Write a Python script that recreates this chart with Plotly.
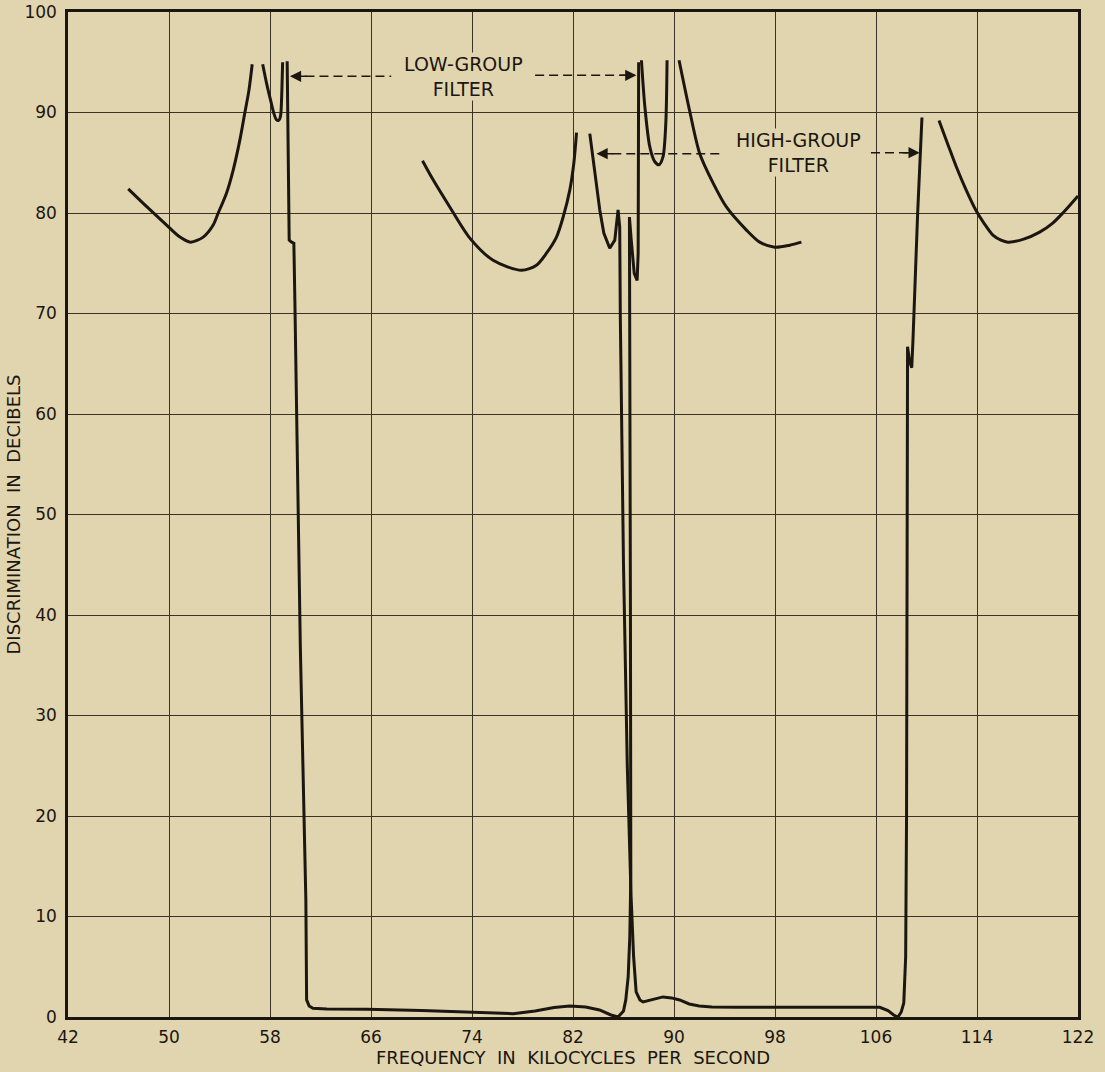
import plotly.graph_objects as go

# ---------------- data ----------------
# Low-group filter
lg_a_x = [46.77, 47.96, 49.81, 50.87, 51.71, 52.71, 53.5, 53.9, 54.56, 55.09, 55.62, 56.01, 56.33, 56.59]
lg_a_y = [82.4, 80.96, 78.8, 77.6, 77.1, 77.6, 78.8, 80.0, 82.0, 84.3, 87.3, 90.0, 92.2, 94.8]

lg_b_x = [57.42, 57.73, 58.05, 58.31, 58.5, 58.65, 58.78, 58.86, 58.94, 59.0]
lg_b_y = [94.8, 92.9, 91.2, 89.9, 89.3, 89.2, 89.4, 89.9, 92.2, 95.0]

lg_pass_x = [59.36, 59.52, 59.71, 59.89, 59.97, 60.4, 60.84, 60.9, 61.1, 61.4, 62.5, 65.65, 70.0, 74.0,
             77.26, 79.0, 80.5, 81.75, 83.0, 84.1, 85.0, 85.57, 86.0, 86.18, 86.37, 86.5, 86.58,
             86.55, 86.5, 86.47, 86.6, 86.85, 87.08, 87.16, 87.18, 87.2]
lg_pass_y = [95.1, 77.3, 77.1, 77.0, 71.3, 37.0, 11.6, 1.7, 1.1, 0.87, 0.8, 0.77, 0.65, 0.5,
             0.33, 0.6, 0.95, 1.09, 1.0, 0.7, 0.2, 0.0, 0.6, 1.7, 4.0, 8.0, 14.0,
             40.0, 65.0, 79.6, 77.5, 74.0, 73.3, 76.0, 85.0, 95.0]

lg_d_x = [87.42, 87.69, 88.08, 88.48, 88.82, 89.13, 89.35, 89.45]
lg_d_y = [95.2, 90.6, 86.6, 85.1, 84.8, 85.6, 88.9, 95.2]

lg_e_x = [90.4, 91.25, 92.04, 93.09, 94.15, 95.74, 96.79, 97.98, 99.17, 100.09]
lg_e_y = [95.2, 90.1, 85.9, 83.0, 80.6, 78.3, 77.1, 76.6, 76.8, 77.1]

# High-group filter
hg_f_x = [70.08, 70.92, 72.24, 73.83, 75.67, 77.92, 79.1, 79.9, 80.69, 81.22, 81.75, 82.06, 82.28]
hg_f_y = [85.2, 83.3, 80.6, 77.5, 75.3, 74.3, 74.8, 76.0, 77.6, 79.6, 82.3, 84.9, 88.0]

hg_g_x = [83.33, 83.73, 84.12, 84.44, 84.91, 85.31, 85.57, 85.7, 85.75, 86.0, 86.3, 86.6, 86.8,
          87.0, 87.3, 87.55, 88.2, 89.13, 89.8, 90.45, 91.2, 92.0, 93.0, 95.0, 100.0, 106.3,
          106.95, 107.4, 107.74, 108.0, 108.2, 108.35, 108.42, 108.5, 108.65, 108.83, 108.93,
          109.3, 109.64]
hg_g_y = [87.9, 83.9, 80.3, 78.0, 76.5, 77.3, 80.3, 78.6, 69.4, 45.0, 25.0, 12.0, 6.0,
          2.5, 1.7, 1.5, 1.7, 2.0, 1.9, 1.7, 1.3, 1.1, 1.0, 0.96, 0.96, 0.96,
          0.63, 0.2, 0.0, 0.5, 1.4, 6.0, 20.0, 66.7, 65.3, 64.6, 67.4,
          80.0, 89.5]

hg_h_x = [110.99, 111.7, 112.36, 113.1, 113.9, 114.6, 115.26, 115.9, 116.45, 117.7, 118.96, 120.0, 120.8, 122.0]
hg_h_y = [89.2, 86.8, 84.6, 82.4, 80.3, 78.9, 77.8, 77.3, 77.1, 77.4, 78.1, 79.0, 80.0, 81.7]

x_ticks = [42, 50, 58, 66, 74, 82, 90, 98, 106, 114, 122]
y_ticks = [0, 10, 20, 30, 40, 50, 60, 70, 80, 90, 100]

# ---------------- styling ----------------
BG = "#e1d5af"
INK = "#1c1610"
GRID = "#3b3326"
FONT = "DejaVu Sans"
SP = "\u00a0\u00a0"

fig = go.Figure()

smooth_segments = [(lg_a_x, lg_a_y), (lg_b_x, lg_b_y), (lg_d_x, lg_d_y), (lg_e_x, lg_e_y),
                   (hg_f_x, hg_f_y), (hg_h_x, hg_h_y)]
sharp_segments = [(lg_pass_x, lg_pass_y), (hg_g_x, hg_g_y)]

for sx, sy in smooth_segments:
    fig.add_trace(go.Scatter(x=sx, y=sy, mode="lines",
                             line=dict(color=INK, width=3, shape="spline", smoothing=0.8),
                             hoverinfo="skip", showlegend=False))
for sx, sy in sharp_segments:
    fig.add_trace(go.Scatter(x=sx, y=sy, mode="lines",
                             line=dict(color=INK, width=3),
                             hoverinfo="skip", showlegend=False))

# dashed arrow lines
dash_lines = [(59.7, 67.6, 93.6), (79.0, 86.9, 93.7), (84.0, 93.7, 85.9), (105.6, 109.3, 86.0)]
for x0, x1, yy in dash_lines:
    fig.add_shape(type="line", x0=x0, x1=x1, y0=yy, y1=yy, xref="x", yref="y",
                  line=dict(color=INK, width=1.6, dash="9px,5px"))

heads = [(59.58, 93.6, 18), (87.02, 93.7, -18), (83.86, 85.9, 18), (109.46, 86.0, -18)]
for hx, hy, ax in heads:
    fig.add_annotation(x=hx, y=hy, xref="x", yref="y", ax=ax, ay=0, text="",
                       showarrow=True, arrowhead=2, arrowsize=1.6, arrowwidth=1.4,
                       arrowcolor=INK, standoff=0)

labels = [("LOW-GROUP<br>FILTER", 73.35, 93.6),
          ("HIGH-GROUP<br>FILTER", 99.9, 86.05)]
for t, lx, ly in labels:
    fig.add_annotation(x=lx, y=ly, xref="x", yref="y", text=t, showarrow=False,
                       font=dict(family=FONT, size=19, color=INK), align="center",
                       xanchor="center", yanchor="middle", bgcolor=BG, borderpad=0)

fig.update_layout(
    width=1105, height=1072,
    margin=dict(l=68, r=27, t=12, b=55, autoexpand=False),
    paper_bgcolor=BG, plot_bgcolor=BG,
    font=dict(family=FONT, color=INK, size=16),
    showlegend=False,
)
fig.update_xaxes(range=[42, 122], tickvals=x_ticks, ticktext=[str(v) for v in x_ticks],
                 showgrid=True, gridcolor=GRID, gridwidth=1.3, automargin=False,
                 showline=True, linecolor=INK, linewidth=2.5, mirror=True,
                 ticks="", ticklabelstandoff=3, zeroline=False,
                 tickfont=dict(family=FONT, size=17, color=INK),
                 title=dict(text=f"FREQUENCY{SP}IN{SP}KILOCYCLES{SP}PER{SP}SECOND",
                            font=dict(family=FONT, size=18, color=INK), standoff=0))
fig.update_yaxes(range=[0, 100], tickvals=y_ticks, ticktext=[str(v) for v in y_ticks],
                 showgrid=True, gridcolor=GRID, gridwidth=1.3, automargin=False,
                 showline=True, linecolor=INK, linewidth=2.5, mirror=True,
                 ticks="", ticklabelstandoff=5, zeroline=False,
                 tickfont=dict(family=FONT, size=17, color=INK),
                 title=dict(text=f"DISCRIMINATION{SP}IN{SP}DECIBELS",
                            font=dict(family=FONT, size=18, color=INK), standoff=0))

fig.write_html("out.html")
